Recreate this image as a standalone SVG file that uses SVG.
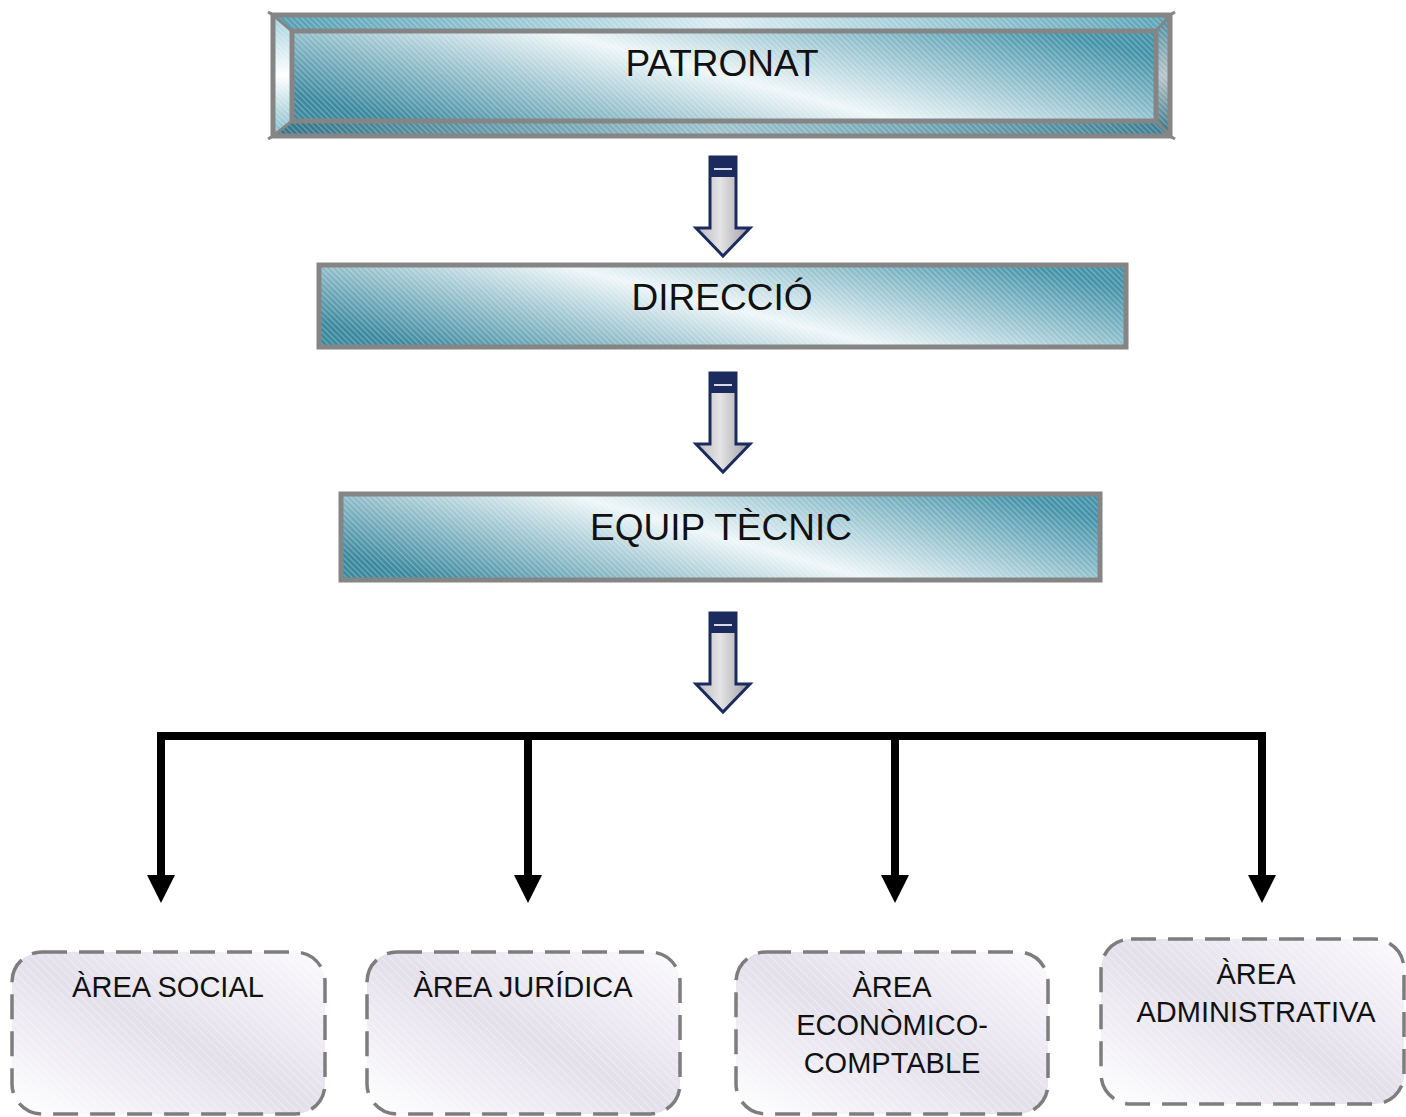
<svg xmlns="http://www.w3.org/2000/svg" width="1406" height="1117" viewBox="0 0 1406 1117">
<style>
.lbl{font-family:"Liberation Sans",Arial,sans-serif;fill:#111;text-anchor:middle}
.big{font-size:37px}
.sm{font-size:29px}
.frame{fill:none;stroke:#858585;stroke-width:5}
.area{stroke:#7d7d7d;stroke-width:3.5;stroke-dasharray:25 12}
.flow{fill:url(#shaft);stroke:#1b2b5e;stroke-width:3;stroke-linejoin:miter}
.cap{fill:#1b2b5e}
.capline{stroke:#d5dbe8;stroke-width:2}
.conn{fill:none;stroke:#000;stroke-width:8}
</style>
<defs>
<linearGradient id="teal" x1="0" y1="0.7" x2="1" y2="0.3">
<stop offset="0" stop-color="#3a889e"/>
<stop offset="0.5" stop-color="#eef6f8"/>
<stop offset="1" stop-color="#4392a8"/>
</linearGradient>
<linearGradient id="bevTop" x1="0" y1="0" x2="1" y2="0">
<stop offset="0" stop-color="#4f9db2"/>
<stop offset="0.5" stop-color="#d9ecf1"/>
<stop offset="1" stop-color="#5aa3b6"/>
</linearGradient>
<linearGradient id="bevBot" x1="0" y1="0" x2="1" y2="0">
<stop offset="0" stop-color="#2f7287"/>
<stop offset="0.5" stop-color="#9cc2cc"/>
<stop offset="1" stop-color="#3a7d91"/>
</linearGradient>
<linearGradient id="bevL" x1="0" y1="0" x2="0" y2="1">
<stop offset="0" stop-color="#9fcfdb"/>
<stop offset="0.5" stop-color="#ffffff"/>
<stop offset="1" stop-color="#7fb9c8"/>
</linearGradient>
<linearGradient id="bevR" x1="0" y1="0" x2="0" y2="1">
<stop offset="0" stop-color="#3f8aa0"/>
<stop offset="0.5" stop-color="#b5c4c8"/>
<stop offset="1" stop-color="#2f6f84"/>
</linearGradient>
<linearGradient id="lav" x1="0" y1="1" x2="1" y2="0">
<stop offset="0" stop-color="#ffffff"/>
<stop offset="0.5" stop-color="#e3dfeb"/>
<stop offset="1" stop-color="#fbfafd"/>
</linearGradient>
<linearGradient id="shaft" x1="0" y1="0" x2="1" y2="0">
<stop offset="0" stop-color="#b8b8bc"/>
<stop offset="0.45" stop-color="#e4e4e6"/>
<stop offset="1" stop-color="#9c9ca2"/>
</linearGradient>
<pattern id="hatch" width="4" height="4" patternUnits="userSpaceOnUse" patternTransform="rotate(-45)">
<rect x="0" y="0" width="1.2" height="4" fill="#ffffff" fill-opacity="0.3"/>
</pattern>
<pattern id="hatch2" width="6" height="6" patternUnits="userSpaceOnUse" patternTransform="rotate(-45)">
<rect x="0" y="0" width="1" height="6" fill="#ffffff" fill-opacity="0.35"/>
</pattern>
<marker id="ah" markerUnits="userSpaceOnUse" markerWidth="28" markerHeight="28" viewBox="0 0 28 28" refX="2" refY="14" orient="auto">
<path d="M0,0 L28,14 L0,28 Z" fill="#000"/>
</marker>
<g id="blockArrow">
<polygon class="flow" points="710,157 736,157 736,228 750,228 723,256 696,228 710,228"/>
<rect class="cap" x="710" y="157" width="26" height="20"/>
<line class="capline" x1="714" y1="169" x2="732" y2="169"/>
</g>
</defs>

<g id="patronat">
<polygon points="273,15 1170,15 1156,31 292,31" fill="url(#bevTop)"/>
<polygon points="273,15 292,31 292,121 273,136" fill="url(#bevL)"/>
<polygon points="273,136 292,121 1156,121 1170,136" fill="url(#bevBot)"/>
<polygon points="1170,15 1170,136 1156,121 1156,31" fill="url(#bevR)"/>
<rect x="292" y="31" width="864" height="90" fill="url(#teal)"/>
<rect x="273" y="15" width="897" height="121" fill="url(#hatch)"/>
<rect class="frame" x="273" y="15" width="897" height="121"/>
<rect class="frame" x="292" y="31" width="864" height="90"/>
<path d="M273,15 L292,31 M273,136 L292,121 M1170,15 L1156,31 M1170,136 L1156,121 M268,12 L278,18 M268,139 L278,133 M1175,12 L1165,18 M1175,139 L1165,133" stroke="#858585" stroke-width="3" fill="none"/>
<text class="lbl big" x="722" y="76">PATRONAT</text>
</g>

<g id="direccio">
<rect x="319" y="265" width="807" height="82" fill="url(#teal)"/>
<rect x="319" y="265" width="807" height="82" fill="url(#hatch)"/>
<rect class="frame" x="319" y="265" width="807" height="82"/>
<text class="lbl big" x="722" y="310">DIRECCIÓ</text>
</g>

<g id="equip-tecnic">
<rect x="341" y="494" width="759" height="86" fill="url(#teal)"/>
<rect x="341" y="494" width="759" height="86" fill="url(#hatch)"/>
<rect class="frame" x="341" y="494" width="759" height="86"/>
<text class="lbl big" x="721" y="540">EQUIP TÈCNIC</text>
</g>

<g id="flow-arrows">
<use href="#blockArrow"/>
<use href="#blockArrow" transform="translate(0,216)"/>
<use href="#blockArrow" transform="translate(0,456)"/>
</g>

<g id="connectors">
<path class="conn" d="M157,736 L1266,736"/>
<path class="conn" d="M161,732 L161,877" marker-end="url(#ah)"/>
<path class="conn" d="M528,732 L528,877" marker-end="url(#ah)"/>
<path class="conn" d="M895,732 L895,877" marker-end="url(#ah)"/>
<path class="conn" d="M1262,732 L1262,877" marker-end="url(#ah)"/>
</g>

<g id="area-social">
<rect class="area" x="12" y="952" width="313" height="162" rx="30" fill="url(#lav)"/>
<rect x="14" y="954" width="309" height="158" rx="28" fill="url(#hatch2)"/>
<text class="lbl sm" x="168" y="997">ÀREA SOCIAL</text>
</g>

<g id="area-juridica">
<rect class="area" x="367" y="952" width="313" height="162" rx="30" fill="url(#lav)"/>
<rect x="369" y="954" width="309" height="158" rx="28" fill="url(#hatch2)"/>
<text class="lbl sm" x="523" y="997">ÀREA JURÍDICA</text>
</g>

<g id="area-economico">
<rect class="area" x="736" y="952" width="312" height="162" rx="30" fill="url(#lav)"/>
<rect x="738" y="954" width="308" height="158" rx="28" fill="url(#hatch2)"/>
<text class="lbl sm" x="892" y="997">ÀREA</text>
<text class="lbl sm" x="892" y="1035">ECONÒMICO-</text>
<text class="lbl sm" x="892" y="1073">COMPTABLE</text>
</g>

<g id="area-administrativa">
<rect class="area" x="1101" y="939" width="303" height="165" rx="30" fill="url(#lav)"/>
<rect x="1103" y="941" width="299" height="161" rx="28" fill="url(#hatch2)"/>
<text class="lbl sm" x="1256" y="984">ÀREA</text>
<text class="lbl sm" x="1256" y="1022">ADMINISTRATIVA</text>
</g>
</svg>
